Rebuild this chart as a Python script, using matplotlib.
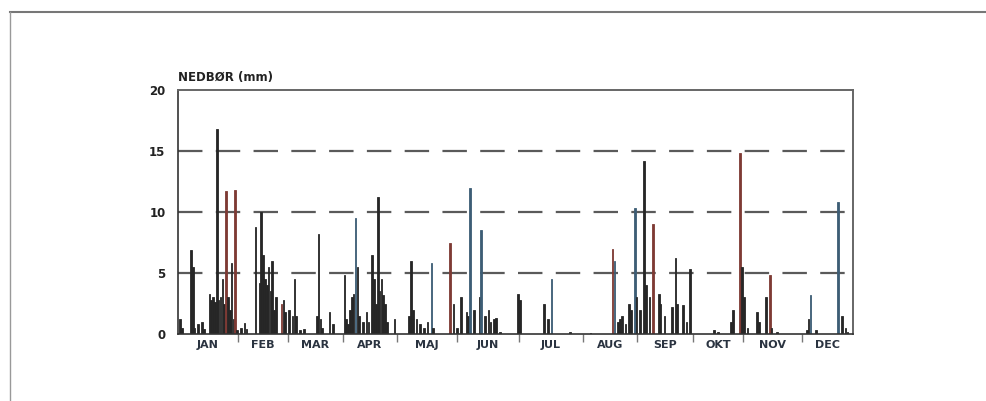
import numpy as np
import matplotlib
matplotlib.use("Agg")
import matplotlib.pyplot as plt
from matplotlib.lines import Line2D

# Daglig nedbør (mm), dag i året og mængde
dage = [
    1, 2, 7, 8, 9, 11, 13, 14, 17, 18, 19, 20, 21, 22, 23, 24, 25, 26, 27, 28, 29, 30, 31, 32, 34, 36, 37,
    42, 44, 45, 46, 47, 48, 49, 50, 51, 52, 53, 56, 57, 58, 60, 62, 63, 64,
    66, 68, 75, 76, 77, 78, 82, 84, 90, 91, 92,
    93, 94, 95, 96, 97, 98, 100, 102, 103, 105, 106, 107, 108, 109, 110, 111, 112, 113, 117,
    125, 126, 127, 129, 131, 133, 135, 137, 138, 147, 149,
    151, 153, 156, 157, 158, 160, 163, 164, 166, 168, 169, 171, 172, 174,
    184, 185, 198, 200, 202, 212,
    223, 235, 236, 238, 239, 240, 242, 244, 245, 247, 248,
    250, 252, 253, 255, 257, 260, 261, 263, 267, 269, 270, 273, 275, 277,
    290, 292, 299, 300, 304, 305, 306,
    308, 313, 314, 318, 320, 321, 324,
    340, 341, 342, 345, 357, 359, 361, 362,
]
nedboer = [
    1.2, 0.5, 6.9, 5.5, 0.5, 0.8, 1.0, 0.4, 3.3, 2.8, 3.0, 2.6, 16.8, 2.8, 3.0, 4.5, 2.5, 11.7, 3.0, 2.0, 5.8, 1.2, 11.8, 0.3, 0.5, 0.9, 0.4,
    8.8, 4.2, 10.0, 6.5, 4.5, 4.0, 5.5, 3.5, 6.0, 2.0, 3.0, 2.5, 2.8, 1.8, 2.0, 1.5, 4.5, 1.5,
    0.3, 0.4, 1.5, 8.2, 1.2, 0.5, 1.8, 0.8, 4.8, 1.2, 0.8,
    2.0, 3.0, 3.3, 9.5, 5.5, 1.5, 1.0, 1.8, 1.0, 6.5, 4.5, 2.5, 11.2, 3.5, 4.5, 3.2, 2.5, 1.0, 1.2,
    1.5, 6.0, 2.0, 1.2, 0.8, 0.5, 1.0, 5.8, 0.5, 7.5, 2.5,
    0.5, 3.0, 1.8, 1.5, 12.0, 2.0, 3.0, 8.5, 1.5, 2.0, 1.0, 1.2, 1.3, 0.2,
    3.3, 2.8, 2.5, 1.2, 4.5, 0.2,
    0.1, 7.0, 6.0, 1.0, 1.2, 1.5, 0.8, 2.5, 2.0, 10.3, 3.0,
    2.0, 14.2, 4.0, 3.0, 9.0, 3.3, 2.5, 1.5, 2.2, 6.2, 2.5, 2.4, 1.0, 5.3,
    0.3, 0.2, 1.0, 2.0, 14.8, 5.5, 3.0,
    0.5, 1.8, 1.0, 3.0, 4.8, 0.5, 0.2,
    0.3, 1.2, 3.2, 0.3, 10.8, 1.5, 0.5, 0.2,
]

# Månedsgrænser som de står på aksen (i dage)
maaned_graenser = [0, 32.4, 59.5, 89.2, 118.4, 150.9, 184.4, 219.0, 248.2, 278.5, 305.5, 337.5, 365]
maaneder = ["JAN", "FEB", "MAR", "APR", "MAJ", "JUN", "JUL", "AUG", "SEP", "OKT", "NOV", "DEC"]

# nogle søjler fremstår farvede i scanningen
roede_dage = [26, 31, 56, 147, 235, 257, 304, 320]
blaa_dage = [96, 137, 158, 164, 202, 236, 247, 342, 357]

farver = []
for d in dage:
    if d in roede_dage:
        farver.append("#7e3a34")
    elif d in blaa_dage:
        farver.append("#3d5d75")
    else:
        farver.append("#262626")

fig = plt.figure(figsize=(9.86, 4.01), dpi=100)
ax = fig.add_axes([0.1805, 0.167, 0.6846, 0.6085])

# gitterlinjer først, så søjlerne ligger ovenpå
for y in [5, 10, 15]:
    ax.axhline(y, color="#5a5a5a", lw=1.6, linestyle=(0, (11, 6)), zorder=1)

ax.bar(dage, nedboer, width=0.9, color=farver, edgecolor=farver, linewidth=0.6, zorder=2)

ax.set_xlim(0, 365)
ax.set_ylim(0, 20)

ax.set_yticks([0, 5, 10, 15, 20])
ax.set_yticklabels(["0", "5", "10", "15", "20"], fontsize=8.5, fontweight="bold", color="#222222")
ax.tick_params(axis="y", length=0, pad=9)

midter = [(maaned_graenser[i] + maaned_graenser[i + 1]) / 2 for i in range(12)]
ax.set_xticks(midter)
ax.set_xticklabels(maaneder, fontsize=8, fontweight="bold", color="#2a3340")
ax.tick_params(axis="x", which="major", length=0, pad=4)
ax.set_xticks(maaned_graenser[1:-1], minor=True)
ax.tick_params(axis="x", which="minor", length=6, width=1, color="#777777", direction="out")

for side in ["left", "bottom"]:
    ax.spines[side].set_color("#333333")
    ax.spines[side].set_linewidth(1.2)
for side in ["top", "right"]:
    ax.spines[side].set_color("#666666")
    ax.spines[side].set_linewidth(1.4)

fig.text(0.1805, 0.79, "NEDBØR (mm)", fontsize=8.5, fontweight="bold", color="#222222",
         ha="left", va="bottom")

# sideramme fra scanningen
fig.add_artist(Line2D([0.01, 1.0], [0.97, 0.97], color="#777777", lw=1.5, transform=fig.transFigure))
fig.add_artist(Line2D([0.01, 0.01], [0.0, 0.97], color="#999999", lw=1.0, transform=fig.transFigure))

fig.savefig("out.png", dpi=100)
